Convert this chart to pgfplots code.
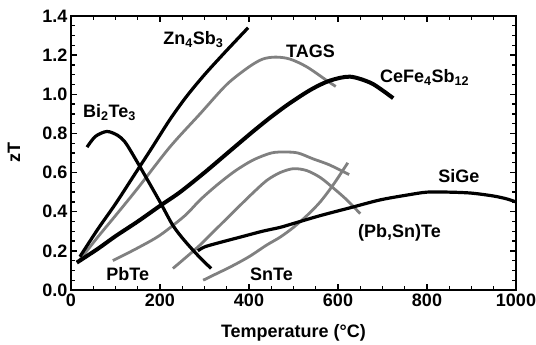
\documentclass[border=0pt]{standalone}
\usepackage{pgfplots}
\pgfplotsset{compat=1.18}
\usepackage{fontspec}
\setmainfont{Liberation Sans}
\newcommand{\lf}{\fontsize{18}{21}\selectfont\bfseries}
\begin{document}
\begin{tikzpicture}
\begin{axis}[
  at={(0,0)}, anchor=south west,
  width=445pt, height=274pt, scale only axis,
  xmin=0, xmax=1000, ymin=0, ymax=1.4,
  xtick={0,200,400,600,800,1000},
  ytick={0,0.2,0.4,0.6,0.8,1.0,1.2,1.4},
  minor x tick num=3, minor y tick num=3,
  tick align=inside, tick pos=both,
  major tick length=6pt, minor tick length=4pt,
  every tick/.style={line width=1.4pt, black},
  axis line style={line width=2pt},
  /pgf/number format/assume math mode=true,
  yticklabel style={/pgf/number format/.cd, fixed, fixed zerofill, precision=1},
  xticklabel style={/pgf/number format/.cd, fixed, 1000 sep={}},
  tick label style={font=\lf},
  xlabel={Temperature (\textdegree C)},
  ylabel={zT},
  every axis x label/.style={at={(axis description cs:0.5,-0.157)}, anchor=center, font=\lf},
  every axis y label/.style={at={(axis description cs:-0.128,0.5)}, anchor=center, rotate=90, font=\lf},
  clip=false,
]
% gray curves
\addplot[smooth, line width=2.8pt, black!50] coordinates {(15,0.14)(60,0.27)(100,0.38)(150,0.52)(222,0.73)(290,0.90)(350,1.05)(400,1.14)(431,1.18)(460,1.19)(492,1.18)(530,1.14)(575,1.07)(595,1.04)};
\addplot[smooth, line width=2.8pt, black!50] coordinates {(94,0.15)(150,0.215)(200,0.28)(256,0.38)(290,0.46)(330,0.54)(370,0.61)(410,0.665)(450,0.70)(480,0.705)(510,0.70)(544,0.67)(580,0.64)(625,0.59)};
\addplot[smooth, line width=2.8pt, black!50] coordinates {(229,0.11)(260,0.17)(290,0.23)(330,0.32)(370,0.41)(406,0.49)(440,0.56)(470,0.60)(500,0.62)(530,0.61)(560,0.575)(590,0.52)(620,0.46)(650,0.39)};
\addplot[smooth, line width=2.8pt, black!50] coordinates {(297,0.05)(324,0.08)(360,0.12)(400,0.17)(440,0.23)(470,0.27)(500,0.32)(530,0.38)(560,0.45)(590,0.54)(622,0.65)};
% black curves
\addplot[smooth, line width=3.2pt, black] coordinates {(36,0.73)(55,0.785)(81,0.81)(105,0.79)(120,0.76)(133,0.715)(160,0.61)(200,0.45)(229,0.33)(256,0.25)(290,0.165)(315,0.11)};
\addplot[smooth, line width=3.2pt, black] coordinates {(20,0.17)(60,0.31)(100,0.44)(140,0.58)(180,0.72)(222,0.87)(260,0.99)(300,1.10)(340,1.20)(373,1.28)(398,1.34)};
\addplot[smooth, line width=4pt, black] coordinates {(13,0.14)(60,0.21)(100,0.275)(150,0.35)(200,0.43)(245,0.50)(300,0.60)(357,0.71)(409,0.81)(450,0.885)(492,0.955)(540,1.025)(582,1.07)(627,1.09)(672,1.06)(700,1.02)(724,0.98)};
\addplot[smooth, line width=3.2pt, black] coordinates {(285,0.20)(300,0.22)(330,0.24)(380,0.27)(430,0.30)(470,0.32)(500,0.34)(560,0.38)(627,0.42)(694,0.46)(755,0.485)(800,0.50)(850,0.50)(900,0.495)(950,0.48)(980,0.465)(1000,0.45)};
% labels
\node[anchor=base west, font=\lf, inner sep=0pt] at (axis cs:207,1.252) {Zn\textsubscript{4}Sb\textsubscript{3}};
\node[anchor=base west, font=\lf, inner sep=0pt] at (axis cs:483,1.19) {TAGS};
\node[anchor=base west, font=\lf, inner sep=0pt] at (axis cs:694,1.058) {CeFe\textsubscript{4}Sb\textsubscript{12}};
\node[anchor=base west, font=\lf, inner sep=0pt] at (axis cs:27,0.879) {Bi\textsubscript{2}Te\textsubscript{3}};
\node[anchor=base west, font=\lf, inner sep=0pt] at (axis cs:79,0.046) {PbTe};
\node[anchor=base west, font=\lf, inner sep=0pt] at (axis cs:402,0.051) {SnTe};
\node[anchor=base west, font=\lf, inner sep=0pt] at (axis cs:825,0.547) {SiGe};
\node[anchor=base west, font=\lf, inner sep=0pt] at (axis cs:645,0.266) {(Pb,Sn)Te};
\end{axis}
\pgfresetboundingbox
\path[use as bounding box] (-71pt,-55pt) rectangle (465pt,290pt);
\end{tikzpicture}
\end{document}
